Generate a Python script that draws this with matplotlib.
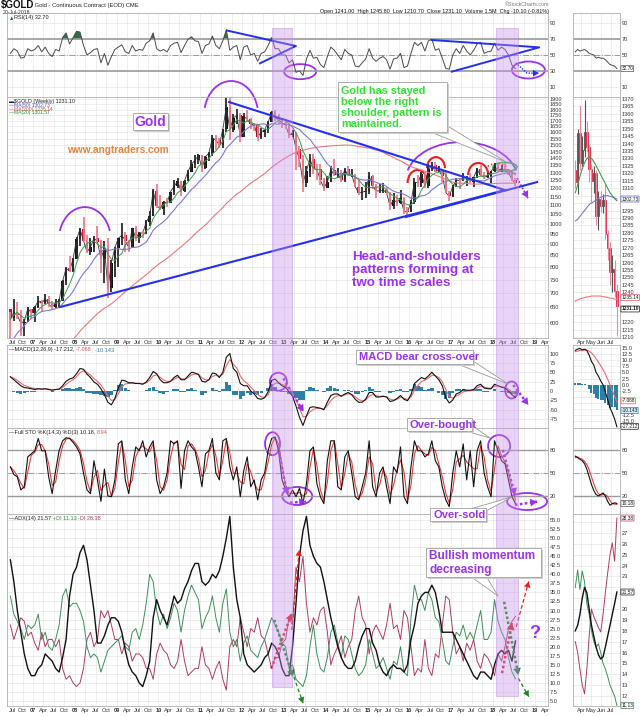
import numpy as np
import pandas as pd
import matplotlib
matplotlib.use("Agg")
import matplotlib.pyplot as plt
import matplotlib.ticker as mticker
import matplotlib.transforms as mtrans
from matplotlib.patches import Ellipse, Arc, Rectangle, Polygon

plt.rcParams['font.family'] = ['Liberation Sans', 'DejaVu Sans']

# ------------------------------------------------------------------ data
first_year, first_month = 2006, 6      # monthly bars Jun-2006 .. Jul-2018

close = [614, 632, 624, 599, 604, 646, 632,
         650, 672, 663, 680, 660, 650, 666, 673, 743, 795, 783, 834,
         923, 972, 916, 865, 886, 928, 912, 833, 884, 717, 816, 884,
         928, 942, 916, 884, 979, 927, 955, 952, 1008, 1040, 1182, 1096,
         1081, 1118, 1113, 1180, 1212, 1244, 1181, 1248, 1308, 1359, 1386, 1421,
         1332, 1411, 1439, 1556, 1536, 1500, 1628, 1825, 1620, 1725, 1746, 1566,
         1738, 1711, 1669, 1664, 1561, 1604, 1622, 1687, 1773, 1720, 1711, 1675,
         1663, 1578, 1595, 1472, 1392, 1234, 1313, 1396, 1327, 1323, 1250, 1202,
         1240, 1321, 1284, 1296, 1250, 1322, 1282, 1287, 1210, 1171, 1175, 1184,
         1279, 1213, 1183, 1184, 1190, 1172, 1095, 1132, 1115, 1142, 1065, 1061,
         1118, 1238, 1235, 1293, 1215, 1322, 1351, 1309, 1316, 1277, 1173, 1152,
         1211, 1250, 1249, 1268, 1268, 1242, 1270, 1322, 1283, 1271, 1276, 1309,
         1343, 1318, 1327, 1315, 1305, 1254, 1231.1]

high = [633, 680, 667, 640, 612, 650, 645,
        655, 690, 675, 695, 690, 670, 680, 680, 748, 798, 848, 838,
        935, 978, 1033, 942, 930, 938, 990, 920, 915, 930, 830, 888,
        930, 1006, 960, 920, 980, 990, 960, 965, 1020, 1070, 1195, 1227,
        1160, 1125, 1140, 1180, 1250, 1266, 1245, 1250, 1315, 1387, 1425, 1432,
        1425, 1415, 1448, 1575, 1577, 1556, 1632, 1912, 1923, 1760, 1805, 1764,
        1765, 1792, 1720, 1680, 1667, 1640, 1630, 1693, 1790, 1796, 1755, 1725,
        1695, 1680, 1617, 1605, 1488, 1425, 1347, 1434, 1434, 1361, 1362, 1267,
        1280, 1345, 1392, 1331, 1315, 1332, 1345, 1323, 1292, 1255, 1207, 1240,
        1308, 1287, 1224, 1224, 1232, 1205, 1175, 1170, 1157, 1192, 1147, 1088,
        1128, 1263, 1287, 1303, 1306, 1362, 1377, 1375, 1344, 1318, 1306, 1183,
        1221, 1264, 1262, 1297, 1275, 1298, 1274, 1331, 1362, 1306, 1300, 1310,
        1366, 1363, 1356, 1370, 1326, 1309, 1265]

low = [543, 605, 612, 560, 560, 605, 612,
       603, 648, 636, 660, 652, 640, 648, 648, 672, 730, 778, 780,
       835, 890, 915, 860, 852, 865, 910, 775, 735, 681, 705, 760,
       800, 895, 865, 866, 880, 915, 905, 930, 950, 990, 1040, 1085,
       1075, 1045, 1090, 1110, 1160, 1200, 1155, 1180, 1245, 1310, 1330, 1360,
       1308, 1325, 1380, 1415, 1462, 1478, 1480, 1605, 1535, 1600, 1670, 1523,
       1565, 1690, 1627, 1612, 1527, 1550, 1565, 1595, 1685, 1700, 1672, 1635,
       1626, 1555, 1565, 1321, 1338, 1180, 1208, 1271, 1292, 1251, 1221, 1182,
       1202, 1238, 1277, 1268, 1240, 1240, 1280, 1273, 1205, 1160, 1131, 1142,
       1167, 1197, 1142, 1170, 1170, 1162, 1072, 1077, 1098, 1106, 1052, 1046,
       1061, 1108, 1206, 1208, 1200, 1200, 1310, 1306, 1304, 1241, 1171, 1122,
       1146, 1205, 1195, 1245, 1214, 1236, 1205, 1265, 1275, 1260, 1265, 1236,
       1303, 1307, 1303, 1310, 1282, 1247, 1211]

# closes Jan-2004 .. May-2006, needed to seed the long moving averages
pre_close = [402, 396, 427, 387, 394, 396, 391, 409, 416, 429, 453, 438,
             422, 435, 428, 435, 417, 437, 430, 434, 472, 471, 496, 518,
             569, 556, 583, 654, 644]

rsi = [52, 58, 55, 46, 47, 58, 55,
       57, 62, 54, 60, 52, 48, 57, 55, 72, 78, 64, 72,
       80, 79, 62, 50, 53, 57, 58, 40, 52, 37, 48, 57,
       60, 63, 54, 52, 62, 55, 57, 56, 65, 68, 78, 58,
       55, 57, 54, 62, 65, 66, 53, 62, 70, 73, 68, 67,
       52, 62, 64, 74, 62, 58, 68, 82, 56, 60, 62, 44,
       60, 62, 50, 52, 42, 52, 54, 62, 72, 58, 58, 50,
       50, 40, 44, 28, 30, 24, 45, 56, 46, 47, 38, 34,
       48, 60, 56, 50, 44, 57, 52, 50, 36, 35, 40, 45,
       58, 46, 42, 46, 48, 44, 32, 45, 46, 52, 34, 36,
       52, 66, 62, 66, 55, 68, 70, 56, 58, 46, 33, 32,
       50, 58, 52, 62, 55, 50, 56, 64, 66, 52, 54, 55,
       65, 56, 60, 57, 50, 37, 32.7]

macd = [38, 30, 22, 14, 9, 8, 6,
        4, 6, 5, 6, 4, 2, 4, 5, 14, 26, 32, 35,
        46, 60, 58, 45, 36, 24, 18, 6, -10, -30, -37, -20,
        8, 29, 27, 22, 22, 20, 20, 18, 24, 36, 52, 46,
        30, 22, 22, 26, 36, 42, 30, 30, 40, 50, 48, 44,
        26, 24, 30, 48, 46, 36, 50, 90, 100, 60, 50, 20,
        14, 14, 0, -8, -20, -22, -18, -2, 28, 32, 22, 14,
        10, -2, -14, -40, -70, -92, -66, -44, -42, -44, -46, -50,
        -30, -12, -8, -8, -14, -8, -4, -10, -22, -30, -30, -22,
        -4, -4, -16, -16, -14, -16, -28, -26, -20, -12, -22, -26,
        -10, 20, 28, 36, 32, 40, 50, 40, 30, 14, -18, -32,
        -24, -8, -4, 4, 2, 2, 4, 14, 18, 8, 6, 6,
        18, 14, 10, 8, 0, -10, -17.2]

sto_k = [58, 48, 45, 28, 32, 71, 75,
         79, 95, 79, 79, 45, 23, 53, 79, 92, 96, 95, 90,
         84, 75, 50, 28, 23, 66, 41, 13, 55, 20, 19, 41,
         88, 92, 41, 23, 58, 84, 79, 92, 71, 84, 92, 41,
         23, 32, 50, 92, 88, 92, 30, 79, 92, 84, 79, 58,
         32, 75, 79, 95, 50, 41, 92, 95, 58, 41, 58, 19,
         53, 71, 32, 41, 15, 41, 50, 79, 95, 97, 79, 41,
         28, 19, 28, 19, 30, 10, 36, 79, 84, 36, 19, 10,
         66, 92, 92, 32, 28, 71, 79, 50, 19, 15, 32, 50,
         92, 32, 19, 50, 58, 32, 10, 58, 50, 84, 19, 10,
         58, 92, 79, 79, 71, 75, 92, 66, 58, 32, 15, 6,
         50, 79, 58, 88, 41, 79, 32, 79, 92, 50, 32, 19,
         92, 79, 66, 62, 41, 19, 10.18]

adx = [44, 38, 30, 24, 18, 14, 12,
       12, 14, 15, 18, 17, 16, 14, 13, 17, 22, 34, 40,
       42, 46, 48, 44, 37, 30, 21, 21, 23, 26, 28, 28,
       27, 24, 19, 15, 13, 12, 10, 9, 12, 16, 28, 33,
       30, 28, 26, 30, 34, 32, 33, 36, 38, 41, 43, 43,
       38, 37, 38, 40, 39, 41, 45, 50, 56, 42, 33, 28,
       18, 15, 14, 13, 14, 15, 17, 18, 21, 20, 18, 14,
       12, 12, 20, 32, 45, 52, 56, 48, 45, 43, 42, 38,
       33, 28, 24, 20, 17, 15, 14, 14, 16, 20, 23, 25,
       25, 21, 19, 15, 13, 12, 14, 15, 14, 14, 13, 15,
       22, 26, 32, 34, 35, 35, 37, 35, 30, 24, 24, 24,
       24, 22, 20, 18, 16, 14, 12, 11, 13, 13, 12, 11,
       15, 18, 19, 18, 19, 16, 21.57]

plus_di = [34, 29, 27, 25, 22, 26, 25,
           26, 29, 22, 24, 20, 19, 22, 26, 34, 36, 31, 32,
           32, 30, 27, 20, 17, 18, 17, 13, 16, 19, 20, 21,
           22, 23, 20, 19, 24, 25, 22, 26, 32, 40, 38, 30,
           26, 29, 25, 28, 32, 30, 24, 30, 34, 37, 35, 33,
           25, 28, 30, 34, 28, 24, 32, 36, 24, 20, 22, 16,
           21, 23, 19, 18, 17, 20, 22, 25, 28, 26, 24, 21,
           20, 14, 15, 11, 10, 9, 12, 20, 26, 18, 14, 13,
           17, 24, 26, 21, 17, 23, 22, 18, 14, 12, 13, 15,
           22, 18, 14, 15, 17, 14, 11, 16, 15, 20, 13, 12,
           28, 37, 33, 33, 30, 35, 33, 28, 27, 22, 16, 15,
           20, 24, 23, 26, 22, 24, 22, 26, 30, 22, 22, 24,
           33, 27, 24, 22, 17, 13, 11.13]

minus_di = [26, 22, 25, 28, 27, 23, 24,
            21, 19, 24, 20, 22, 22, 20, 22, 14, 11, 12, 10,
            9, 10, 14, 22, 24, 20, 22, 30, 28, 30, 26, 22,
            22, 18, 21, 20, 16, 18, 18, 17, 14, 14, 11, 18,
            21, 19, 18, 15, 14, 16, 22, 16, 12, 13, 14, 14,
            20, 15, 14, 11, 14, 16, 11, 8, 20, 22, 20, 28,
            24, 20, 25, 24, 28, 23, 22, 18, 14, 17, 17, 21,
            22, 28, 26, 42, 38, 45, 32, 24, 28, 26, 30, 31,
            24, 15, 18, 20, 23, 17, 20, 22, 30, 34, 28, 26,
            18, 24, 26, 24, 22, 26, 32, 25, 26, 22, 30, 28,
            20, 12, 14, 13, 22, 14, 12, 18, 17, 26, 34, 33,
            24, 18, 20, 16, 21, 19, 22, 16, 14, 18, 17, 15,
            12, 18, 16, 20, 25, 27, 28.38]

# weekly detail panel (weeks of 2018-03-12 .. 2018-07-16)
mini_weeks = pd.date_range("2018-03-15", "2018-07-19", freq="7D")
mini_open = [1322, 1314, 1347, 1327, 1336, 1348, 1338, 1323, 1315, 1320, 1291, 1303, 1298, 1302, 1279, 1270, 1254, 1256, 1241]
mini_high = [1329, 1350, 1366, 1345, 1369, 1355, 1340, 1326, 1325, 1322, 1308, 1308, 1306, 1313, 1282, 1274, 1265, 1262, 1245.8]
mini_low = [1310, 1306, 1322, 1325, 1331, 1334, 1314, 1301, 1307, 1285, 1282, 1294, 1293, 1276, 1262, 1245, 1240, 1237, 1210.7]
mini_close = [1314, 1347, 1327, 1336, 1348, 1338, 1323, 1315, 1320, 1291, 1303, 1298, 1302, 1279, 1270, 1254, 1256, 1241, 1231.1]
mini_ma20 = [1307, 1312, 1318, 1323, 1327, 1330, 1331, 1330, 1328, 1325, 1322, 1319, 1316, 1313, 1310, 1307, 1305, 1303, 1301.57]
mini_ma50 = [1288, 1289, 1291, 1293, 1295, 1297, 1299, 1300, 1301, 1302, 1303, 1304, 1304.5, 1305, 1305, 1304.5, 1304, 1303.5, 1302.73]
mini_ma200 = [1234, 1235, 1235.5, 1236, 1236.5, 1237, 1237, 1237.5, 1237.5, 1237.5, 1237.5, 1237.5, 1237, 1237, 1236.5, 1236, 1236, 1235.5, 1235.14]
mini_rsi = [54, 57, 55, 56, 57, 55, 52, 51, 50, 46, 47, 46, 46, 44, 41, 38, 37, 36, 32.7]
mini_macd = [14, 14.5, 14.8, 14.2, 14.5, 14, 12, 9.5, 8, 5, 3.5, 1.5, 0, -3, -6, -9.5, -11.5, -14, -17.212]
mini_signal = [13.5, 13.7, 14, 14, 14.1, 14.1, 13.7, 12.9, 12, 10.6, 9.2, 7.7, 6.1, 4.3, 2.2, -0.1, -2.4, -4.7, -7.068]
mini_k = [72, 70, 68, 66, 62, 55, 45, 35, 27, 22, 20, 22, 24, 20, 13, 8, 10, 11, 10.18]
mini_d = [70, 71, 69, 68, 65, 61, 54, 45, 36, 28, 23, 21, 22, 22, 19, 14, 10, 9.5, 8.94]
mini_adx = [18, 18.5, 19.5, 21, 22, 21.5, 20, 18.5, 17.5, 16.5, 15.8, 15.4, 15.6, 16.5, 17.5, 18.5, 19.5, 20.5, 21.57]
mini_pdi = [22, 23.6, 21.8, 23.5, 22.5, 20.5, 19.5, 18, 17, 16.5, 16.8, 16, 15, 14.5, 13.8, 13, 12.5, 12, 11.13]
mini_mdi = [17, 16, 14.5, 13, 12.2, 14.5, 17.5, 20, 19.3, 18.8, 18.3, 17.9, 19.5, 21.5, 23.3, 25, 26.1, 24.4, 28.38]

# highlighted periods (decimal years)
band_spans = [(2012.72, 2013.20), (2018.07, 2018.60)]

# tick labels
price_ticks = list(range(600, 1901, 50))
mini_price_ticks = list(range(1210, 1371, 5))
macd_ticks = list(range(-100, 101, 25))
mini_macd_ticks = [v / 2 for v in range(-30, 31, 5)]
adx_ticks = [v / 2 for v in range(10, 111, 5)]
mini_adx_ticks = list(range(12, 29))
osc_ticks = [20, 50, 80]
rsi_ticks = [10, 30, 50, 70, 90]
mini_month_labels = ["Apr", "May", "Jun", "Jul"]

# ------------------------------------------------------------------ derived
n = len(close)
t = first_year + (first_month - 1 + np.arange(n) + 0.5) / 12.0
close = np.array(close, float); high = np.array(high, float); low = np.array(low, float)
open_ = np.r_[pre_close[-1], close[:-1]]
all_close = pd.Series(np.r_[pre_close, close])
ma20 = all_close.rolling(5).mean().values[-n:]
ma50 = all_close.rolling(12).mean().values[-n:]
ma200 = all_close.rolling(46).mean().values[-n:]
rsi = np.array(rsi, float)
macd = np.array(macd, float)
signal = pd.Series(macd).ewm(span=3, adjust=False).mean().values
sto_k = np.array(sto_k, float)
sto_d = pd.Series(sto_k).rolling(2, min_periods=1).mean().values
md = mini_weeks.dayofyear.values.astype(float)
mini_open = np.array(mini_open); mini_close = np.array(mini_close)
mini_hist = np.array(mini_macd) - np.array(mini_signal)

# ------------------------------------------------------------------ layout
W, H = 640, 716
fig = plt.figure(figsize=(6.4, 7.16), dpi=100)
fig.patch.set_facecolor('white')

def fx(x): return x / W
def fy(y): return 1 - y / H
def add_ax(x0, y0, x1, y1):
    return fig.add_axes([x0 / W, 1 - y1 / H, (x1 - x0) / W, (y1 - y0) / H])

XM, XS = (7, 548), (573, 620)
ROWS = {'rsi': (13, 97), 'price': (97, 338), 'macd': (345, 428),
        'sto': (428, 514), 'adx': (514, 706)}
TLIM = (2006.378, 2019.32)
DLIM = (67, 209.4)

qt, ql, qb = [], [], []
for yr in range(2006, 2020):
    for m, lab in ((1, None), (4, 'Apr'), (7, 'Jul'), (10, 'Oct')):
        tt = yr + (m - 1) / 12
        if TLIM[0] <= tt <= TLIM[1]:
            qt.append(tt); ql.append(f"{yr % 100:02d}" if m == 1 else lab); qb.append(m == 1)
mini_month_days = [pd.Timestamp(f"2018-{mm}-01").dayofyear for mm in (4, 5, 6, 7)]

GRID = '#e8e8e8'

def style(ax, main, show_x, yticks, fmt, skip=()):
    if main:
        ax.set_xlim(*TLIM); ax.set_xticks(qt)
        ax.set_xticklabels(ql if show_x else [])
        if show_x:
            for lbl, b in zip(ax.get_xticklabels(), qb):
                if b:
                    lbl.set_fontweight('bold')
    else:
        ax.set_xlim(*DLIM); ax.set_xticks(mini_month_days)
        ax.set_xticklabels(mini_month_labels if show_x else [])
    ax.yaxis.tick_right()
    ax.yaxis.set_major_locator(mticker.FixedLocator(yticks))
    ax.yaxis.set_minor_locator(mticker.NullLocator())
    ax.xaxis.set_minor_locator(mticker.NullLocator())
    ax.yaxis.set_major_formatter(mticker.FuncFormatter(
        lambda v, p: '' if any(abs(v - s) < 1e-6 for s in skip) else fmt.format(v)))
    ax.tick_params(axis='both', length=0, labelsize=4.1, colors='#333333', pad=1.5)
    ax.grid(True, color=GRID, lw=0.5)
    ax.set_axisbelow(True)
    for s in ax.spines.values():
        s.set_color('#b0b0b0'); s.set_linewidth(0.6)

def pair(row):
    y0, y1 = ROWS[row]
    return add_ax(XM[0], y0, XM[1], y1), add_ax(XS[0], y0, XS[1], y1)

F0, F1 = "{:.0f}", "{:.1f}"
PURPLE = '#9b30f0'
BLUE = '#2430ee'

# ---- RSI
a_rsi, m_rsi = pair('rsi')
for ax, tt, rv, main in ((a_rsi, t, rsi, True), (m_rsi, md, np.array(mini_rsi), False)):
    style(ax, main, False, rsi_ticks, F0, skip=() if main else (30,))
    ax.set_ylim(-3.2, 103.2)
    ax.axhline(70, color='#9c9c9c', lw=1.2); ax.axhline(30, color='#9c9c9c', lw=1.2)
    ax.axhline(50, color='#9c9c9c', lw=0.7, ls='-.')
    ax.fill_between(tt, 70, rv, where=rv > 70, interpolate=True, color='#2f6e47', lw=0)
    ax.plot(tt, rv, color='#4a4a4a', lw=0.7)

# ---- price
a_pr, m_pr = pair('price')
a_pr.set_yscale('log')
style(a_pr, True, True, price_ticks, F0)
a_pr.set_ylim(555, 1920)
style(m_pr, False, True, mini_price_ticks, F0, skip=(1300, 1305, 1235, 1230, 1225))
m_pr.set_ylim(1209.3, 1371.3)

up = close >= open_
a_pr.plot(t, close, color='#333333', lw=0.6)
a_pr.vlines(t, low, high, colors=np.where(up, '#2a2a2a', '#f07d8e'), lw=1.3)
a_pr.bar(t, np.abs(close - open_), bottom=np.minimum(close, open_), width=0.06,
         color=np.where(up, '#111111', '#e2102f'), lw=0)
a_pr.plot(t, ma200, color='#e87878', lw=0.8)
a_pr.plot(t, ma50, color='#7a78d4', lw=0.8)
a_pr.plot(t, ma20, color='#3f9a48', lw=0.7)

prev_mc = np.r_[mini_open[0], mini_close[:-1]]
mup = mini_close >= prev_mc
mcol = np.where(mup, '#222222', '#e2102f')
m_pr.vlines(md, mini_low, mini_high, colors=np.where(mup, '#555555', '#f08a9a'), lw=0.8)
m_pr.bar(md, np.maximum(np.abs(mini_close - mini_open), 0.6), bottom=np.minimum(mini_close, mini_open),
         width=4.2, color=np.where(mini_close >= mini_open, 'white', mcol), edgecolor=mcol, lw=0.5)
m_pr.plot(md, mini_ma200, color='#e87878', lw=0.8)
m_pr.plot(md, mini_ma50, color='#7a78d4', lw=0.8)
m_pr.plot(md, mini_ma20, color='#3f9a48', lw=0.8)

# ---- MACD
a_m, m_m = pair('macd')
style(a_m, True, False, macd_ticks, F0); a_m.set_ylim(-98.7, 122.7)
style(m_m, False, False, mini_macd_ticks, F1, skip=(-5.0, -7.5, -10.0)); m_m.set_ylim(-17.7, 16.2)
a_m.bar(t, macd - signal, width=1 / 12 * 0.95, color='#2e7fa6', lw=0)
a_m.plot(t, signal, color='#f06a6a', lw=0.8)
a_m.plot(t, macd, color='#111111', lw=0.8)
m_m.bar(md, mini_hist, width=6, color='#2e7fa6', lw=0)
m_m.plot(md, mini_signal, color='#f06a6a', lw=0.8)
m_m.plot(md, mini_macd, color='#111111', lw=0.8)

# ---- Stochastic
a_s, m_s = pair('sto')
for ax, tt, k, d, main in ((a_s, t, sto_k, sto_d, True), (m_s, md, mini_k, mini_d, False)):
    style(ax, main, False, osc_ticks, F0)
    ax.set_ylim(-3.5, 108.7)
    ax.axhline(80, color='#9c9c9c', lw=1.0); ax.axhline(20, color='#9c9c9c', lw=1.0)
    ax.axhline(50, color='#9c9c9c', lw=0.7, ls='-.')
    ax.plot(tt, d, color='#e83a3a', lw=0.8)
    ax.plot(tt, k, color='#111111', lw=0.8)

# ---- ADX
a_a, m_a = pair('adx')
style(a_a, True, True, adx_ticks, F1); a_a.set_ylim(3.62, 56.66)
style(m_a, False, True, mini_adx_ticks, F0, skip=(28, 22, 21)); m_a.set_ylim(11.08, 28.75)
for ax, tt, p_, m_, a_ in ((a_a, t, plus_di, minus_di, adx), (m_a, md, mini_pdi, mini_mdi, mini_adx)):
    ax.plot(tt, m_, color='#b03a64', lw=0.7)
    ax.plot(tt, p_, color='#3d8f5a', lw=0.7)
    ax.plot(tt, a_, color='#111111', lw=1.0)

# ------------------------------------------------------------------ annotations
IDT = mtrans.IdentityTransform()

def px_ell(ax, center, w, h, color, lw=1.3, th=None, ls='-'):
    cx, cy = ax.transData.transform(center)
    if th is None:
        p = Ellipse((cx, cy), w, h, transform=IDT, fill=False, ec=color, lw=lw, ls=ls, clip_on=False)
    else:
        p = Arc((cx, cy), w, h, theta1=th[0], theta2=th[1], transform=IDT, ec=color, lw=lw, ls=ls, clip_on=False)
    ax.add_artist(p)

def arrow(ax, pts, color, lw=1.8, ls=(0, (1, 1)), head=7):
    xs, ys = zip(*pts)
    ax.plot(xs, ys, color=color, lw=lw, ls=ls, clip_on=False, solid_capstyle='butt')
    ax.annotate('', xy=pts[-1], xytext=pts[-2],
                arrowprops=dict(arrowstyle='-|>,head_length=0.7,head_width=0.4', color=color, lw=0,
                                shrinkA=0, shrinkB=0, mutation_scale=head),
                annotation_clip=False)

# RSI wedges / ellipses
a_rsi.plot([2011.64, 2013.29, 2012.43], [81, 61.4, 39.5], color=BLUE, lw=1.4, clip_on=False)
a_rsi.plot([2016.54, 2019.11, 2017.02], [69, 59.7, 28.9], color=BLUE, lw=1.4, clip_on=False)
px_ell(a_rsi, (2013.39, 28.9), 32, 15, PURPLE)
px_ell(a_rsi, (2018.85, 31), 33, 17, PURPLE)
arrow(a_rsi, [(2018.55, 40), (2018.82, 27), (2019.10, 27)], BLUE, lw=1.0, head=6)

# price: trend lines, arcs
a_pr.plot([2011.69, 2018.29], [1871, 1189], color=BLUE, lw=1.5)
a_pr.plot([2007.65, 2018.29], [651, 1189], color=BLUE, lw=1.5)
a_pr.plot([2015.92, 2019.06], [1035, 1239], color=BLUE, lw=1.5, clip_on=False)
px_ell(a_pr, (2008.24, 919), 52, 66, PURPLE, th=(20, 160))
px_ell(a_pr, (2011.74, 1750), 54, 68, PURPLE, th=(15, 165))
px_ell(a_pr, (2017.26, 1252), 112, 76, PURPLE, th=(10, 170))
px_ell(a_pr, (2016.20, 1233), 20, 26, '#ee1c1c', lw=1.5, th=(10, 180))
px_ell(a_pr, (2016.64, 1331), 18, 22, '#ee1c1c', lw=1.5, th=(0, 180))
px_ell(a_pr, (2017.65, 1285), 20, 24, '#ee1c1c', lw=1.5, th=(0, 180))
px_ell(a_pr, (2018.10, 1340), 18, 6, '#ee1c1c', lw=1.0, th=(0, 180), ls=':')
px_ell(a_pr, (2018.29, 1339), 24, 9, '#2ec42e', lw=1.2)
arrow(a_pr, [(2018.58, 1265), (2018.84, 1141)], PURPLE, lw=1.3, head=7)

# MACD
px_ell(a_m, (2012.87, 24.8), 17, 18, PURPLE)
px_ell(a_m, (2018.45, 2.7), 13, 17, PURPLE)
arrow(a_m, [(2012.99, 33.9), (2013.47, -55)], PURPLE)
arrow(a_m, [(2018.49, 16), (2018.85, -37)], PURPLE)

# Stochastic
px_ell(a_s, (2012.73, 88.2), 15, 23, PURPLE)
px_ell(a_s, (2013.32, 20), 30, 18, PURPLE)
px_ell(a_s, (2018.15, 85.2), 22, 22, PURPLE)
px_ell(a_s, (2018.82, 12.8), 40, 17, PURPLE)
arrow(a_s, [(2012.86, 83.9), (2013.08, 22.6)], PURPLE)
arrow(a_s, [(2013.15, 11.3), (2013.53, 12.6)], PURPLE)
arrow(a_s, [(2018.24, 80), (2018.53, 21.3)], PURPLE)
arrow(a_s, [(2018.53, 8.3), (2019.06, 12.6)], PURPLE)

# ADX
RED, GRN = '#e82020', '#1a8a1a'
arrow(a_a, [(2012.70, 14.0), (2013.19, 29.2)], RED)
arrow(a_a, [(2013.19, 24.6), (2013.37, 46.7)], RED, lw=0.9, ls=(0, (3, 2)), head=6)
arrow(a_a, [(2012.77, 27.4), (2013.22, 11.7)], GRN)
arrow(a_a, [(2013.24, 11.7), (2013.46, 4.4)], GRN, lw=0.9, ls=(0, (3, 2)), head=6)
arrow(a_a, [(2018.22, 12.7), (2018.46, 26.5)], RED)
arrow(a_a, [(2018.56, 25.5), (2018.86, 38.0)], RED, lw=0.9, ls=(0, (3, 2)), head=6)
arrow(a_a, [(2018.27, 32.4), (2018.61, 12.2)], GRN)
arrow(a_a, [(2018.61, 11.3), (2018.86, 6.2)], GRN, lw=0.9, ls=(0, (3, 2)), head=6)

# highlight bands (continuous across panels)
for (t0, t1), ybot in zip(band_spans, (687, 696)):
    x0 = a_pr.transData.transform((t0, 1000))[0]
    x1 = a_pr.transData.transform((t1, 1000))[0]
    fig.add_artist(Rectangle((x0 / W, fy(ybot)), (x1 - x0) / W, (ybot - 28) / H,
                             transform=fig.transFigure, fc='#c58ee8', ec='#b57ce0',
                             alpha=0.38, lw=0.8, zorder=5))

# ------------------------------------------------------------------ text
def callout(box, text, color, size, pointer=None, ha='left', ls=1.15):
    x0, y0, x1, y1 = box
    if pointer is not None:
        fig.add_artist(Polygon([(fx(px), fy(py)) for px, py in pointer], closed=True,
                               transform=fig.transFigure, fc='white', ec='#9a9a9a', lw=0.6, zorder=20))
    fig.add_artist(Rectangle((fx(x0 + 1.5), fy(y1 + 1.5)), (x1 - x0) / W, (y1 - y0) / H,
                             transform=fig.transFigure, fc='#cfcfcf', ec='none', zorder=21))
    fig.add_artist(Rectangle((fx(x0), fy(y1)), (x1 - x0) / W, (y1 - y0) / H,
                             transform=fig.transFigure, fc='white', ec='#a0a0a0', lw=0.6, zorder=22))
    xt = x0 + 3 if ha == 'left' else (x0 + x1) / 2
    fig.text(fx(xt), fy((y0 + y1) / 2 + 0.5), text, ha=ha, va='center', color=color, fontsize=size,
             fontweight='bold', linespacing=ls, zorder=23)

callout((133, 113, 168, 130), "Gold", PURPLE, 10, ha='center')
fig.text(fx(118), fy(150), "www.angtraders.com", color='#e8843c', fontsize=7.3, fontweight='bold',
         ha='center', va='center', zorder=23)
callout((338, 82, 447, 132), "Gold has stayed\nbelow the right\nshoulder, pattern is\nmaintained.",
        '#33e033', 7.8, pointer=[(428, 131), (446, 125), (506, 162)])
fig.text(fx(352), fy(270), "Head-and-shoulders\npatterns forming at\ntwo time scales", color=PURPLE,
         fontsize=9.6, fontweight='bold', ha='left', va='center', linespacing=1.12, zorder=23)
callout((356, 350, 473, 364), "MACD bear cross-over", PURPLE, 8,
        pointer=[(455, 363), (470, 359), (508, 384)])
callout((407, 418, 472, 431), "Over-bought", PURPLE, 8, pointer=[(462, 430), (471, 425), (490, 438)])
callout((430, 508, 486, 521), "Over-sold", PURPLE, 8, pointer=[(470, 509), (484, 512), (512, 497)])
callout((426, 548, 541, 577), "Bullish momentum\ndecreasing", PURPLE, 8.5,
        pointer=[(470, 576), (486, 576), (498, 596)])
fig.text(fx(535), fy(634), "?", color=PURPLE, fontsize=13, fontweight='bold', ha='center', va='center', zorder=23)

# header
rend = fig.canvas.get_renderer()
def pieces(x, y, parts, size=4.0):
    for s, c, wgt in parts:
        tx = fig.text(fx(x), fy(y), s, color=c, fontsize=size, fontweight=wgt, ha='left', va='center', zorder=30)
        x += tx.get_window_extent(renderer=rend).width

pieces(1, 5, [("$GOLD", '#111111', 'bold')], size=7)
pieces(33, 5.5, [(" Gold - Continuous Contract (EOD) CME", '#222222', 'normal')], size=4.2)
fig.text(fx(3), fy(13), "20-Jul-2018", fontsize=3.7, color='#333333', va='center')
fig.text(fx(549), fy(4), "\u00a9StockCharts.com", fontsize=3.8, color='#777777', ha='right', va='center')
fig.text(fx(549), fy(11), "Open 1241.00  High 1245.80  Low 1210.70  Close 1231.10  Volume 1.5M  Chg -10.10 (-0.81%)",
         fontsize=3.9, color='#111111', ha='right', va='center')

pieces(9, 18, [("\u25b2", '#2f6e47', 'normal'), ("RSI(14) 32.70", '#222222', 'normal')], size=4.0)
pieces(9, 101.5, [("\u25ac", '#222222', 'normal'), ("$GOLD (Weekly) 1231.10", '#222222', 'normal')], size=3.8)
pieces(9, 105.3, [("\u2014MA(50) 1302.73", '#5a58c8', 'normal')], size=3.6)
pieces(9, 109.0, [("\u2014MA(200) 1235.14", '#e05050', 'normal')], size=3.6)
pieces(9, 112.7, [("\u2014MA(20) 1301.57", '#2f8a3a', 'normal')], size=3.6)
pieces(9, 349.5, [("\u2014MACD(12,26,9) -17.212, ", '#222222', 'normal'), ("-7.068", '#e05050', 'normal'),
                  (", -10.143", '#2e7fa6', 'normal')], size=4.0)
pieces(9, 432.5, [("\u2014Full STO %K(14,3) %D(3) 10.18, ", '#222222', 'normal'), ("8.94", '#e05050', 'normal')], size=4.0)
pieces(9, 518.5, [("\u2014ADX(14) 21.57 ", '#222222', 'normal'), ("+DI 11.13 ", '#2f8a3a', 'normal'),
                  ("-DI 28.38", '#b03a64', 'normal')], size=4.0)

# value boxes on the detail panels
def vbox(ax, y, s, ec, fc='white', tc='#111111', bold=False):
    tr = mtrans.blended_transform_factory(ax.transAxes, ax.transData)
    ax.text(1.03, y, s, transform=tr, fontsize=3.4, color=tc, fontweight='bold' if bold else 'normal',
            va='center', ha='left', clip_on=False, zorder=10,
            bbox=dict(boxstyle='round,pad=0.1', fc=fc, ec=ec, lw=0.5))

vbox(m_rsi, 32.7, "32.70", '#555555')
vbox(m_pr, 1302.73, "1302.73", '#5a58c8')
vbox(m_pr, 1236.5, "1235.14", '#e05050')
vbox(m_pr, 1228.8, "1231.10", '#111111', bold=True)
vbox(m_m, -6.6, "-7.068", '#e05050')
vbox(m_m, -10.5, "-10.143", '#2e7fa6', fc='#d8ecf5')
vbox(m_m, -17.0, "-17.212", '#111111')
vbox(m_s, 10.18, "10.18", '#555555')
vbox(m_a, 28.38, "28.38", '#b03a64')
vbox(m_a, 21.57, "21.57", '#111111')
vbox(m_a, 11.13, "11.13", '#2f8a3a')

fig.savefig("out.png", dpi=100)
